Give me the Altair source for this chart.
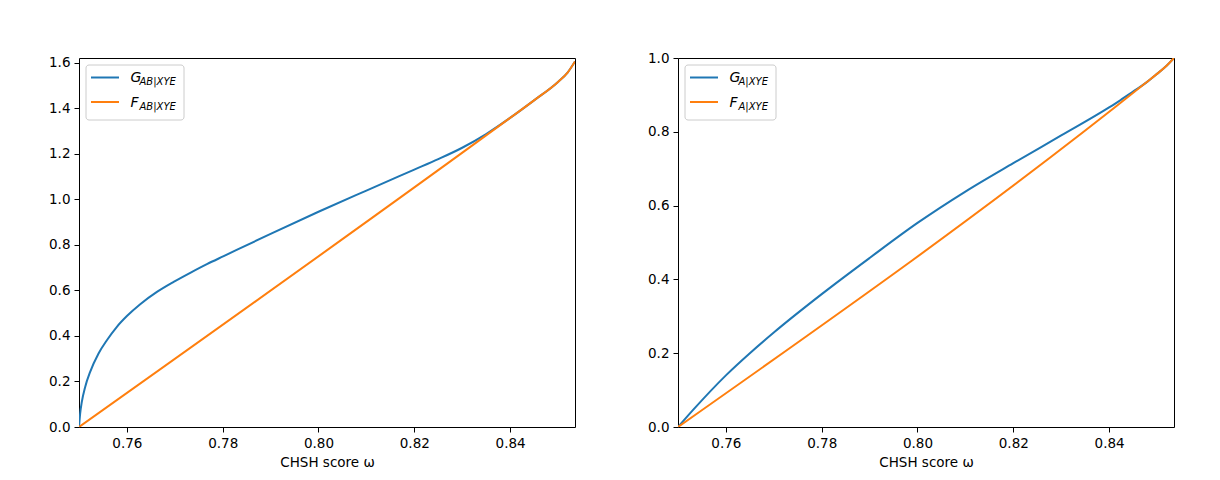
import altair as alt
import pandas as pd

# ---------------- data ----------------
omega_G_AB = [0.75, 0.75024, 0.75059, 0.75129, 0.75233, 0.75408, 0.75582, 0.75791,
              0.76, 0.76278, 0.76627, 0.76975, 0.77323, 0.77671, 0.7802,
              0.79, 0.80, 0.81, 0.82, 0.825, 0.83, 0.835, 0.84, 0.845, 0.85,
              0.852, 0.85355]
G_AB = [0.0, 0.059, 0.110, 0.176, 0.242, 0.323, 0.381, 0.440,
        0.487, 0.539, 0.593, 0.637, 0.677, 0.715, 0.750,
        0.848, 0.945, 1.038, 1.130, 1.176, 1.226, 1.286, 1.357, 1.434, 1.515,
        1.556, 1.605]

omega_F_AB = [0.75, 0.84, 0.845, 0.85, 0.852, 0.85355]
F_AB = [0.0, 1.357, 1.434, 1.515, 1.556, 1.605]

omega_G_A = [0.75, 0.7532, 0.76, 0.765, 0.77, 0.78, 0.79, 0.80, 0.81, 0.82, 0.83,
             0.84, 0.8424, 0.845, 0.8476, 0.85, 0.852, 0.85355]
G_A = [0.0, 0.047, 0.140, 0.200, 0.256, 0.36, 0.458, 0.553, 0.638, 0.715, 0.790,
       0.866, 0.886, 0.909, 0.932, 0.957, 0.979, 1.0]

omega_F_A = [0.75, 0.8476, 0.85, 0.852, 0.85355]
F_A = [0.0, 0.932, 0.957, 0.979, 1.0]

x_ticks = [0.76, 0.78, 0.80, 0.82, 0.84]
y_ticks_left = [0.0, 0.2, 0.4, 0.6, 0.8, 1.0, 1.2, 1.4, 1.6]
y_ticks_right = [0.0, 0.2, 0.4, 0.6, 0.8, 1.0]

x_domain = [0.75, 0.85355]
y_max_left = 1.62
y_max_right = 1.0

legend_subs_left = ["AB|XYE", "AB|XYE"]
legend_subs_right = ["A|XYE", "A|XYE"]
legend_mains = ["G", "F"]

BLUE = "#1f77b4"
ORANGE = "#ff7f0e"
W, H = 496, 369
FONT = "DejaVu Sans"
FS = 13.5


def panel(gw, gv, fw, fv, ymax, yticks, subs, box_w):
    dg = pd.DataFrame({"omega": gw, "value": gv})
    dfr = pd.DataFrame({"omega": fw, "value": fv})
    x = alt.X("omega:Q",
              scale=alt.Scale(domain=x_domain, nice=False, zero=False),
              axis=alt.Axis(values=x_ticks, format=".2f", title="CHSH score ω", grid=False))
    y = alt.Y("value:Q",
              scale=alt.Scale(domain=[0, ymax], nice=False, zero=False),
              axis=alt.Axis(values=yticks, format=".1f", title=None, grid=False))
    g_line = alt.Chart(dg).mark_line(color=BLUE, strokeWidth=2, clip=True,
                                     interpolate="monotone").encode(x=x, y=y)
    f_line = alt.Chart(dfr).mark_line(color=ORANGE, strokeWidth=2, clip=True,
                                      interpolate="monotone").encode(x=x, y=y)

    one = pd.DataFrame({"k": [0]})
    box = alt.Chart(one).mark_rect(fill="white", fillOpacity=0.8, stroke="#cccccc",
                                   strokeWidth=1, cornerRadius=3).encode(
        x=alt.value(7), x2=alt.value(7 + box_w), y=alt.value(7), y2=alt.value(62))
    layers = [g_line, f_line, box]
    for i, (main, sub, col) in enumerate(zip(legend_mains, subs, [BLUE, ORANGE])):
        dy = i * 24.5
        layers.append(alt.Chart(one).mark_rule(color=col, strokeWidth=2).encode(
            x=alt.value(12), x2=alt.value(40), y=alt.value(19.5 + dy)))
        layers.append(alt.Chart(one).mark_text(
            align="left", baseline="alphabetic", fontStyle="italic", fontSize=14,
            font=FONT, color="black").encode(
            x=alt.value(51.5), y=alt.value(24 + dy), text=alt.value(main)))
        layers.append(alt.Chart(one).mark_text(
            align="left", baseline="alphabetic", fontStyle="italic", fontSize=10,
            font=FONT, color="black").encode(
            x=alt.value(60.5), y=alt.value(27 + dy), text=alt.value(sub)))
    return alt.layer(*layers).properties(width=W, height=H)


left = panel(omega_G_AB, G_AB, omega_F_AB, F_AB, y_max_left, y_ticks_left,
             legend_subs_left, 98)
right = panel(omega_G_A, G_A, omega_F_A, F_A, y_max_right, y_ticks_right,
              legend_subs_right, 91)

chart = alt.hconcat(left, right, spacing=71).properties(
    padding={"left": 40, "top": 42, "right": 5, "bottom": 5},
    background="white",
).configure_view(stroke="black", strokeWidth=1).configure_axis(
    domain=False,
    tickColor="black", tickSize=5, tickWidth=1,
    labelColor="black", labelFont=FONT, labelFontSize=FS, labelPadding=4,
    titleColor="black", titleFont=FONT, titleFontSize=FS, titleFontWeight="normal",
    titlePadding=6,
).configure_concat(spacing=71)

chart.save("out.html", embed_options={"renderer": "svg", "actions": False})
